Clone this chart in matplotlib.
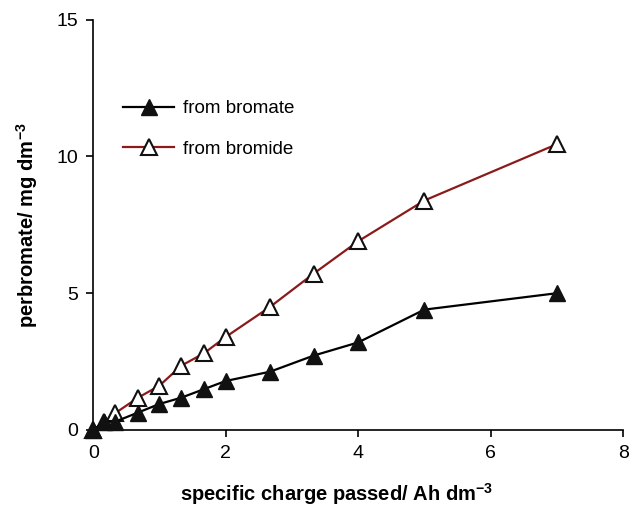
import matplotlib
matplotlib.use("Agg")
import matplotlib.pyplot as plt

plt.rcParams['font.family'] = ['Liberation Sans', 'DejaVu Sans']
plt.rcParams['mathtext.fontset'] = 'custom'
plt.rcParams['mathtext.rm'] = 'Liberation Sans'
plt.rcParams['mathtext.bf'] = 'Liberation Sans:bold'

bromate_x = [0, 0.17, 0.33, 0.67, 1.0, 1.33, 1.67, 2.0, 2.67, 3.33, 4.0, 5.0, 7.0]
bromate_y = [0, 0.3, 0.3, 0.63, 0.95, 1.18, 1.49, 1.79, 2.13, 2.72, 3.2, 4.4, 5.0]

bromide_x = [0, 0.17, 0.33, 0.67, 1.0, 1.33, 1.67, 2.0, 2.67, 3.33, 4.0, 5.0, 7.0]
bromide_y = [0, 0.3, 0.61, 1.17, 1.62, 2.35, 2.8, 3.4, 4.5, 5.72, 6.9, 8.39, 10.45]

xticks = [0, 2, 4, 6, 8]
yticks = [0, 5, 10, 15]

fig = plt.figure(figsize=(6.3, 5.07), dpi=100)
ax = fig.add_axes([0.148, 0.152, 0.841, 0.809])

ax.plot(bromate_x, bromate_y, color='black', lw=1.6, marker='^', ms=12,
        mfc='#111111', mec='#111111', label='from bromate', clip_on=False, zorder=3)
ax.plot(bromide_x, bromide_y, color='#8B1A1A', lw=1.6, marker='^', ms=12,
        mfc='white', mec='#111111', mew=1.5, label='from bromide', clip_on=False, zorder=2)

ax.set_xlim(0, 8)
ax.set_ylim(0, 15)
ax.set_xticks(xticks)
ax.set_yticks(yticks)
ax.spines['top'].set_visible(False)
ax.spines['right'].set_visible(False)
ax.spines['left'].set_linewidth(1.2)
ax.spines['bottom'].set_linewidth(1.2)
ax.tick_params(direction='out', length=5, width=1.2, labelsize=14, pad=6)

ax.set_xlabel('specific charge passed/ Ah dm$^{\\mathbf{-3}}$', fontsize=14.5, fontweight='bold')
ax.set_ylabel('perbromate/ mg dm$^{\\mathbf{-3}}$', fontsize=14.5, fontweight='bold')
ax.xaxis.set_label_coords(0.46, -0.125)
ax.yaxis.set_label_coords(-0.1, 0.5)

ax.legend(loc='upper left', bbox_to_anchor=(0.025, 0.845), frameon=False, fontsize=13.5,
          handlelength=2.7, labelspacing=1.25, handletextpad=0.5)

fig.savefig('out.png', dpi=100)
